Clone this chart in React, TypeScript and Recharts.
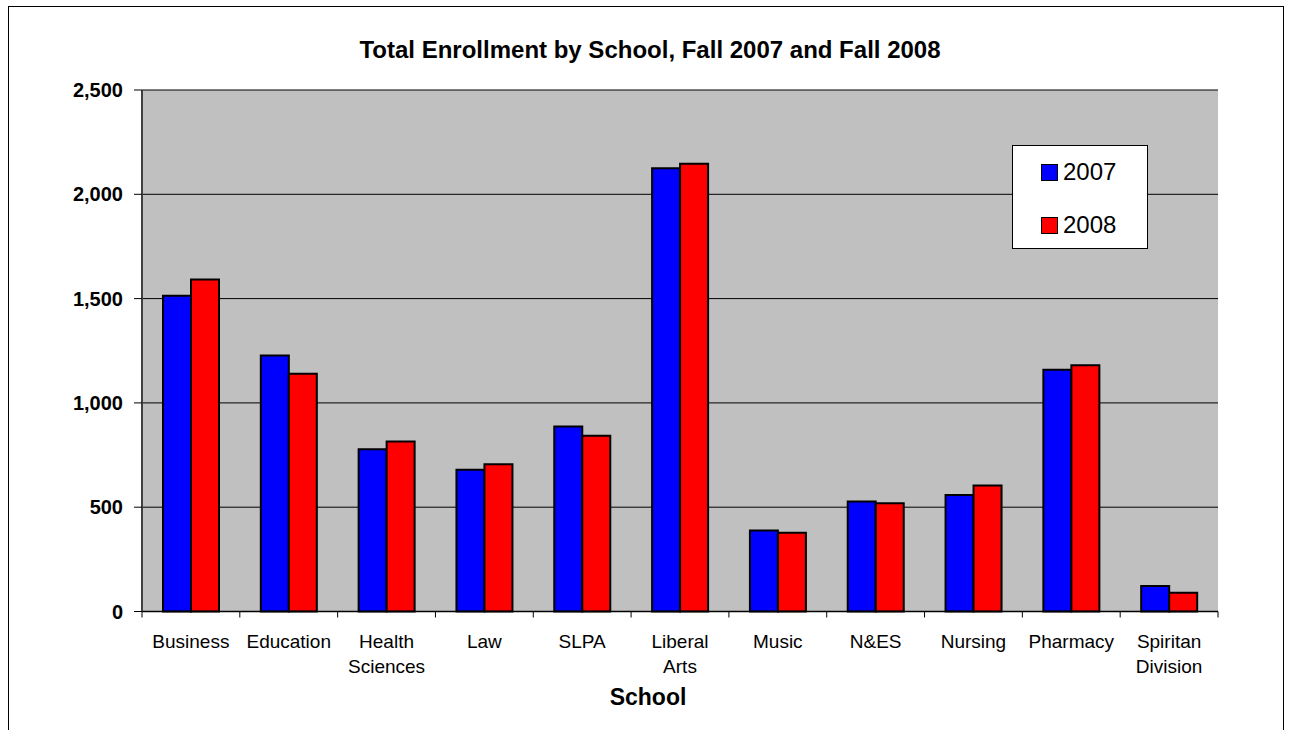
import React from "react";
import { BarChart, Bar, XAxis, YAxis, CartesianGrid, Legend } from "recharts";

const schools = [
  "Business",
  "Education",
  "Health Sciences",
  "Law",
  "SLPA",
  "Liberal Arts",
  "Music",
  "N&ES",
  "Nursing",
  "Pharmacy",
  "Spiritan Division",
];
const fall2007 = [1514, 1227, 778, 679, 887, 2125, 388, 527, 559, 1159, 122];
const fall2008 = [1591, 1140, 815, 706, 842, 2147, 377, 519, 604, 1180, 90];
const yTicks = [0, 500, 1000, 1500, 2000, 2500];

const data = schools.map((school, i) => ({ school, y2007: fall2007[i], y2008: fall2008[i] }));

const font = '"Liberation Sans", Arial, sans-serif';

const SchoolTick = (props: any) => {
  const { x, y, payload, index } = props;
  const half = payload.offset ?? 0;
  const words = String(payload.value).split(" ");
  return (
    <g>
      <line x1={x - half} x2={x - half} y1={y} y2={y + 6} stroke="#000" strokeWidth={1} />
      {index === schools.length - 1 && (
        <line x1={x + half} x2={x + half} y1={y} y2={y + 6} stroke="#000" strokeWidth={1} />
      )}
      <text x={x} y={y + 36} textAnchor="middle" fontSize={19} fill="#000" fontFamily={font}>
        {words.map((w, i) => (
          <tspan key={i} x={x} dy={i === 0 ? 0 : 25}>
            {w}
          </tspan>
        ))}
      </text>
    </g>
  );
};

const LegendBox = (props: any) => {
  const items = props.payload || [];
  return (
    <div
      style={{
        width: 134,
        height: 102,
        background: "#fff",
        border: "1px solid #000",
        fontFamily: font,
        boxSizing: "content-box",
      }}
    >
      {items.map((it: any, i: number) => (
        <div
          key={it.value}
          style={{ position: "absolute", left: 29, top: i === 0 ? 15 : 68, display: "flex", alignItems: "center" }}
        >
          <span
            style={{
              display: "inline-block",
              width: 15,
              height: 15,
              background: it.color,
              border: "1.5px solid #000",
              marginRight: 5,
            }}
          />
          <span style={{ fontSize: 24, lineHeight: "24px", color: "#000" }}>{it.value}</span>
        </div>
      ))}
    </div>
  );
};

export default function App() {
  return (
    <div style={{ position: "absolute", left: 0, top: 0, width: 1290, height: 730, overflow: "hidden", background: "#fff" }}>
      <div
        style={{
          position: "absolute",
          left: 8,
          top: 6,
          width: 1274,
          height: 760,
          border: "1.5px solid #000",
        }}
      />
      <div
        style={{
          position: "absolute",
          left: 5,
          top: 38,
          width: 1290,
          textAlign: "center",
          fontFamily: font,
          fontWeight: "bold",
          fontSize: 24,
          lineHeight: 1,
          color: "#000",
        }}
      >
        Total Enrollment by School, Fall 2007 and Fall 2008
      </div>
      <div
        style={{
          position: "absolute",
          left: 3,
          top: 685.5,
          width: 1290,
          textAlign: "center",
          fontFamily: font,
          fontWeight: "bold",
          fontSize: 23,
          lineHeight: 1,
          color: "#000",
        }}
      >
        School
      </div>
      <div style={{ position: "absolute", left: 0, top: 0 }}>
        <BarChart
          width={1290}
          height={730}
          data={data}
          margin={{ top: 90, right: 72, bottom: 0, left: 0 }}
          barGap={0}
          barSize={28}
        >
          <CartesianGrid vertical={false} fill="#C0C0C0" stroke="#000" strokeWidth={1} />
          <XAxis
            dataKey="school"
            interval={0}
            tickLine={false}
            tickSize={0}
            tickMargin={0}
            axisLine={{ stroke: "#000", strokeWidth: 1.5 }}
            tick={<SchoolTick />}
            height={118.5}
          />
          <XAxis
            xAxisId="top"
            dataKey="school"
            orientation="top"
            height={0}
            tick={false}
            tickLine={false}
            axisLine={{ stroke: "#808080", strokeWidth: 2 }}
          />
          <YAxis
            width={142}
            domain={[0, 2500]}
            ticks={yTicks}
            interval={0}
            tickSize={8}
            tickMargin={11}
            tickLine={{ stroke: "#000" }}
            axisLine={{ stroke: "#404040", strokeWidth: 2 }}
            tickFormatter={(v: number) => v.toLocaleString("en-US")}
            tick={{ fill: "#000", fontSize: 20, fontWeight: "bold", fontFamily: font }}
          />
          <YAxis
            yAxisId="right"
            orientation="right"
            width={0}
            domain={[0, 2500]}
            tick={false}
            tickLine={false}
            axisLine={{ stroke: "#808080", strokeWidth: 2 }}
          />
          <Legend
            layout="vertical"
            align="center"
            verticalAlign="middle"
            content={<LegendBox />}
            wrapperStyle={{ left: 1012, top: 145, width: 136, height: 104 }}
          />
          <Bar dataKey="y2007" name="2007" fill="#0000FF" stroke="#000" strokeWidth={2} isAnimationActive={false} />
          <Bar dataKey="y2008" name="2008" fill="#FF0000" stroke="#000" strokeWidth={2} isAnimationActive={false} />
        </BarChart>
      </div>
    </div>
  );
}
